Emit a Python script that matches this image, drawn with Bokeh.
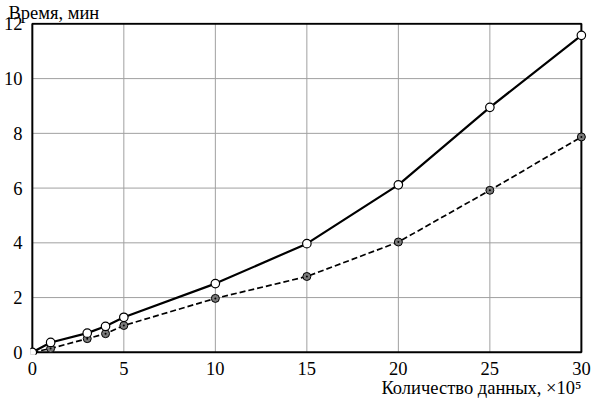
from bokeh.plotting import figure
from bokeh.models import Range1d, FixedTicker, Title
from bokeh.embed import file_html
from bokeh.resources import INLINE

# data
n_data = [0, 1, 3, 4, 5, 10, 15, 20, 25, 30]
time_solid = [0, 0.36, 0.70, 0.95, 1.28, 2.51, 3.97, 6.12, 8.95, 11.58]
time_dashed = [0, 0.14, 0.50, 0.68, 0.98, 1.97, 2.77, 4.03, 5.92, 7.87]
x_ticks = [0, 5, 10, 15, 20, 25, 30]
y_ticks = [0, 2, 4, 6, 8, 10, 12]
y_title = "Время, мин"
x_title = "Количество данных, ×10⁵"

FONT = '"Liberation Serif", "Times New Roman", serif'
FSIZE = "18.5px"

p = figure(width=591, height=399, output_backend="svg", toolbar_location=None,
           x_range=Range1d(x_ticks[0] - 0.1, x_ticks[-1] + 0.28),
           y_range=Range1d(y_ticks[0] - 0.08, y_ticks[-1] + 0.05),
           min_border_left=0, min_border_right=5, min_border_top=0, min_border_bottom=0)
p.outline_line_color = None
p.background_fill_color = "white"
p.border_fill_color = "white"
p.xgrid.visible = False
p.ygrid.visible = False

p.title.text = y_title
p.title.align = "left"
p.title.offset = -22
p.title.standoff = 0
p.title.text_font = FONT
p.title.text_font_size = FSIZE
p.title.text_font_style = "normal"
p.title.text_color = "black"

p.add_layout(Title(text=x_title, align="right", offset=5, standoff=0, vertical_align="top",
                   text_font=FONT, text_font_size=FSIZE, text_font_style="normal",
                   text_color="black"), "below")

for ax, ticks in ((p.xaxis, x_ticks), (p.yaxis, y_ticks)):
    ax.ticker = FixedTicker(ticks=ticks)
    ax.axis_line_color = None
    ax.major_tick_line_color = None
    ax.minor_tick_line_color = None
    ax.major_label_text_font = FONT
    ax.major_label_text_font_size = FSIZE
    ax.major_label_text_color = "black"
p.xaxis.major_label_standoff = 1
p.yaxis.major_label_standoff = 2

# grid lines
inner_x = x_ticks[1:-1]
inner_y = y_ticks[1:-1]
p.segment(x0=inner_x, x1=inner_x, y0=[y_ticks[0]] * len(inner_x), y1=[y_ticks[-1]] * len(inner_x),
          line_color="#a0a0a0", line_width=1)
p.segment(x0=[x_ticks[0]] * len(inner_y), x1=[x_ticks[-1]] * len(inner_y), y0=inner_y, y1=inner_y,
          line_color="#a0a0a0", line_width=1)
# frame
p.quad(left=[x_ticks[0]], right=[x_ticks[-1]], bottom=[y_ticks[0]], top=[y_ticks[-1]],
       fill_color=None, line_color="black", line_width=2)

# series
p.line(n_data, time_dashed, line_color="black", line_width=1.7, line_dash="6 3")
p.scatter(n_data, time_dashed, marker="circle_dot", size=8, fill_color="#7a7a7a",
          line_color="black", line_width=1)
p.line(n_data, time_solid, line_color="black", line_width=2.2)
p.scatter(n_data, time_solid, marker="circle", size=8.5, fill_color="white",
          line_color="black", line_width=1.2)

open("out.html", "w").write(file_html(p, INLINE))
